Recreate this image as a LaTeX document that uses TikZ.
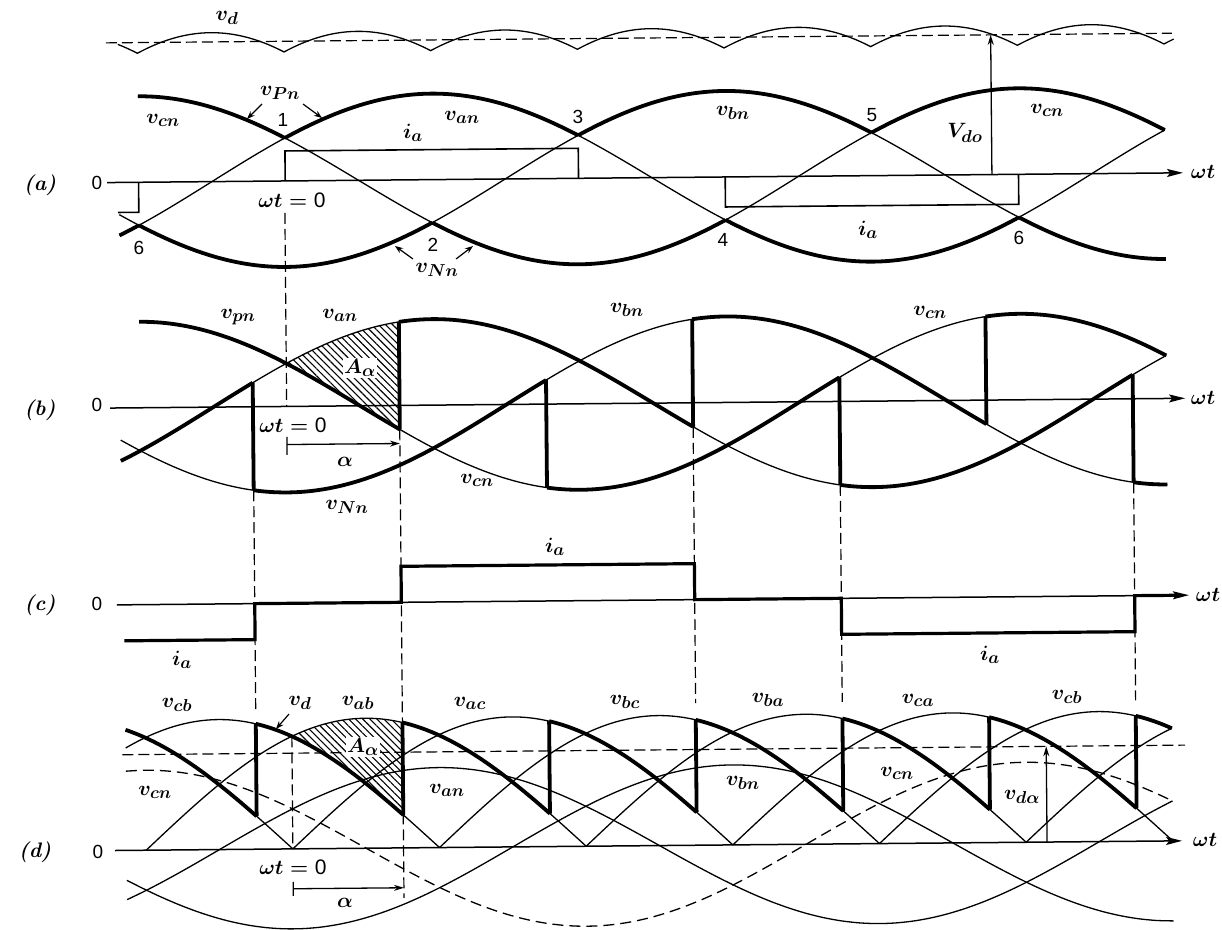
\documentclass[tikz,border=0pt]{standalone}
\usepackage{fontspec}
\newfontfamily\lsans{Liberation Sans}
\DeclareMathSizes{21}{21}{17}{14}
\usetikzlibrary{arrows.meta,patterns.meta}
\newcommand{\mywave}[5]{\draw[#1] plot[domain=#3:#4,samples=61,smooth,variable=\t] ({#2(\t)},{#5});}
\begin{document}
\begin{tikzpicture}[x=1pt,y=-1pt,
  declare function={xa(\t)=288.1+2.4445*\t; xb(\t)=287.5+2.4445*\t; xd(\t)=289.7+2.4445*\t;},
  thn/.style={line width=1.3pt},
  thk/.style={line width=3.8pt,line join=round},
  ial/.style={line width=1.6pt},
  iac/.style={line width=3.2pt,line join=miter},
  axl/.style={line width=1.5pt,-{Stealth[length=16pt,width=8pt,inset=3pt]}},
  dsh/.style={line width=1.2pt,dash pattern=on 11pt off 5pt},
  arr/.style={line width=1.3pt,-{Stealth[length=10pt,width=6pt]}},
  larr/.style={line width=1.2pt,-{Stealth[length=8pt,width=6pt]}},
  hatch/.style={pattern={Lines[angle=-45,distance=5pt,line width=1.1pt]}},
  lab/.style={font=\fontsize{21}{21}\selectfont\boldmath,inner sep=0pt},
  hlab/.style={lab,fill=white,inner sep=1.5pt},
  num/.style={font=\lsans\fontsize{19}{19}\selectfont,inner sep=0pt},
  pl/.style={font=\bfseries\itshape\fontsize{21}{21}\selectfont,inner sep=0pt}]
\useasboundingbox (0,0) rectangle (1222,929);
\begin{scope}[rotate around={0.52:(611,500)}]
% ================= (a)
\draw[axl] (110,178) -- (1186,178);
\draw[thn] plot[domain=-68:364,samples=217,variable=\t] ({xa(\t)},{178-148.96*max(abs(cos(\t-30)),abs(cos(\t-150)),abs(cos(\t+90)))});
\draw[dsh] (110,38.3) -- (1176,38.3);
\mywave{thn}{xa}{-68}{360}{178-86*cos(\t-60)}
\mywave{thn}{xa}{-68}{360}{178-86*cos(\t-180)}
\mywave{thn}{xa}{-60}{360}{178-86*cos(\t+60)}
\mywave{thk}{xa}{-68}{-60}{178-86*cos(\t-60)}
\mywave{thk}{xa}{0}{120}{178-86*cos(\t-60)}
\mywave{thk}{xa}{180}{300}{178-86*cos(\t-60)}
\mywave{thk}{xa}{-60}{60}{178-86*cos(\t-180)}
\mywave{thk}{xa}{120}{240}{178-86*cos(\t-180)}
\mywave{thk}{xa}{300}{360}{178-86*cos(\t-180)}
\mywave{thk}{xa}{-60}{0}{178-86*cos(\t+60)}
\mywave{thk}{xa}{60}{180}{178-86*cos(\t+60)}
\mywave{thk}{xa}{240}{360}{178-86*cos(\t+60)}
\draw[ial] (120.6,208) -- ({xa(-60)},208) -- ({xa(-60)},178);
\draw[ial] ({xa(0)},178) -- ({xa(0)},148) -- ({xa(120)},148) -- ({xa(120)},178);
\draw[ial] ({xa(180)},178) -- ({xa(180)},208) -- ({xa(300)},208) -- ({xa(300)},178);
\coordinate (VdoB) at (994.9,178);
\coordinate (VdoT) at (994.9,38.3);
\draw[arr] (VdoB) -- (VdoT);
\draw[dsh] (287.5,210) -- (287.5,403.5);
% ================= (b)
\fill[hatch] plot[domain=0:46.2,samples=30,variable=\t] ({xb(\t)},{403.5-86*cos(\t-60)})
  -- plot[domain=46.2:0,samples=30,variable=\t] ({xb(\t)},{403.5-86*cos(\t+60)}) -- cycle;
\draw[axl] (111,403.5) -- (1186,403.5);
\mywave{thn}{xb}{-68}{360}{403.5-86*cos(\t-60)}
\mywave{thn}{xb}{-68}{360}{403.5-86*cos(\t-180)}
\mywave{thn}{xb}{-60}{360}{403.5-86*cos(\t+60)}
\mywave{thk}{xb}{-68}{-13.8}{403.5-86*cos(\t-60)}
\mywave{thk}{xb}{46.2}{166.2}{403.5-86*cos(\t-60)}
\mywave{thk}{xb}{226.2}{346.2}{403.5-86*cos(\t-60)}
\mywave{thk}{xb}{-13.8}{106.2}{403.5-86*cos(\t-180)}
\mywave{thk}{xb}{166.2}{286.2}{403.5-86*cos(\t-180)}
\mywave{thk}{xb}{346.2}{360}{403.5-86*cos(\t-180)}
\mywave{thk}{xb}{-60}{46.2}{403.5-86*cos(\t+60)}
\mywave{thk}{xb}{106.2}{226.2}{403.5-86*cos(\t+60)}
\mywave{thk}{xb}{286.2}{360}{403.5-86*cos(\t+60)}
\foreach \f in {46.2,166.2,286.2} \draw[thk] ({xb(\f)},427.5) -- ({xb(\f)},320.0);
\foreach \f in {-13.8,106.2,226.2,346.2} \draw[thk] ({xb(\f)},379.5) -- ({xb(\f)},487.0);
\draw[thn] (287.5,434) -- (287.5,452);
\coordinate (aB1) at (287.5,441.6);
\coordinate (aB2) at (400.4,441.6);
\draw[arr] (aB1) -- (aB2);
% ================= (c)
\draw[axl] (116,600.4) -- (1188,600.4);
\draw[iac] (123,636.4) -- (253.8,636.4) -- (253.8,600.4) -- (400.4,600.4) -- (400.4,564.4)
  -- (693.8,564.4) -- (693.8,600.4) -- (840.4,600.4) -- (840.4,636.4) -- (1133.8,636.4)
  -- (1133.8,600.4) -- (1176,600.4);
\draw[dsh] (253.8,487) -- (253.8,706);
\draw[dsh] (400.4,427.5) -- (400.4,896);
\draw[dsh] (693.8,427.5) -- (693.8,704);
\draw[dsh] (840.4,487) -- (840.4,704);
\draw[dsh] (1133.8,487) -- (1133.8,705);
% ================= (d)
\fill[hatch] plot[domain=0:45.3,samples=30,variable=\t] ({xd(\t)},{846-130*sin(\t+60)})
  -- plot[domain=45.3:0,samples=30,variable=\t] ({xd(\t)},{846-130*sin(\t+120)}) -- cycle;
\draw[axl] (112,846) -- (1179,846);
\draw[dsh] (120,750.3) -- (1183,750.3);
\mywave{thn}{xd}{-68}{360}{846-80*cos(\t-60)}
\mywave{thn}{xd}{-68}{360}{846-80*cos(\t-180)}
\mywave{thn,dash pattern=on 11pt off 6pt}{xd}{-68}{360}{846-80*cos(\t+60)}
\mywave{thn}{xd}{-68}{0}{846-130*sin(\t+180)}
\mywave{thn}{xd}{-68}{60}{846-130*sin(\t+120)}
\mywave{thn}{xd}{-60}{120}{846-130*sin(\t+60)}
\mywave{thn}{xd}{0}{180}{846-130*sin(\t)}
\mywave{thn}{xd}{60}{240}{846-130*sin(\t-60)}
\mywave{thn}{xd}{120}{300}{846-130*sin(\t-120)}
\mywave{thn}{xd}{180}{360}{846-130*sin(\t-180)}
\mywave{thn}{xd}{240}{360}{846-130*sin(\t-240)}
\mywave{thn}{xd}{300}{360}{846-130*sin(\t-300)}
\mywave{thk}{xd}{-68}{-14.7}{846-130*sin(\t+180)}
\mywave{thk}{xd}{-14.7}{45.3}{846-130*sin(\t+120)}
\mywave{thk}{xd}{45.3}{105.3}{846-130*sin(\t+60)}
\mywave{thk}{xd}{105.3}{165.3}{846-130*sin(\t)}
\mywave{thk}{xd}{165.3}{225.3}{846-130*sin(\t-60)}
\mywave{thk}{xd}{225.3}{285.3}{846-130*sin(\t-120)}
\mywave{thk}{xd}{285.3}{345.3}{846-130*sin(\t-180)}
\mywave{thk}{xd}{345.3}{360}{846-130*sin(\t-240)}
\foreach \f in {-14.7,45.3,105.3,165.3,225.3,285.3,345.3} \draw[thk] ({xd(\f)},812.96) -- ({xd(\f)},720.6);
\draw[dsh] (289.7,733.4) -- (289.7,846);
\draw[thn] (289.7,879) -- (289.7,893);
\coordinate (aD1) at (289.7,885.9);
\coordinate (aD2) at (400.4,885.9);
\draw[arr] (aD1) -- (aD2);
\coordinate (vdaB) at (1044,846);
\coordinate (vdaT) at (1044,750.3);
\draw[arr] (vdaB) -- (vdaT);
\end{scope}
% ================= labels (a)
\node[pl] (pa) at (40,185) {(a)};
\node[num] (za) at (97,183) {0};
\node[lab] (la1) at (227,18) {$v_d$};
\node[lab] (la2) at (163,120) {$v_{cn}$};
\node[lab] (vPn) at (280,93) {$v_{Pn}$};
\node[num] (n1) at (283,120) {1};
\node[lab] (la3) at (413,133) {$i_a$};
\node[lab] (la4) at (462,117) {$v_{an}$};
\node[num] (n3) at (578,117) {3};
\node[lab] (la5) at (733,113) {$v_{bn}$};
\node[num] (n5) at (872,115) {5};
\node[lab] (la6) at (965,133) {$V_{do}$};
\node[lab] (la7) at (1047,110) {$v_{cn}$};
\node[lab] (wa) at (1203,172) {$\omega t$};
\node[lab] (wa0) at (292,200) {$\omega t=\mbox{\lsans 0}$};
\node[num] (n6a) at (139,248) {6};
\node[num] (n2) at (433,245) {2};
\node[num] (n4) at (723,240) {4};
\node[num] (n6b) at (1019,238) {6};
\node[lab] (vNn) at (437,270) {$v_{Nn}$};
\node[lab] (la8) at (868,230) {$i_a$};
\coordinate (pPnA) at (262,104); \coordinate (pPnB) at (247,119);
\coordinate (pPnC) at (303,104); \coordinate (pPnD) at (322,118);
\coordinate (pNnA) at (413,259); \coordinate (pNnB) at (395,246);
\coordinate (pNnC) at (456,259); \coordinate (pNnD) at (473,246);
\draw[larr] (pPnA) -- (pPnB);
\draw[larr] (pPnC) -- (pPnD);
\draw[larr] (pNnA) -- (pNnB);
\draw[larr] (pNnC) -- (pNnD);
% ================= labels (b)
\node[pl] (pb) at (40,410) {(b)};
\node[num] (zb) at (97,405) {0};
\node[lab] (lb1) at (238,317) {$v_{pn}$};
\node[lab] (lb2) at (340,315) {$v_{an}$};
\node[hlab] (lb3) at (360,368) {$A_\alpha$};
\node[lab] (lb4) at (293,425) {$\omega t=\mbox{\lsans 0}$};
\node[lab] (lb5) at (345,462) {$\alpha$};
\node[lab] (lb6) at (477,480) {$v_{cn}$};
\node[lab] (lb7) at (347,507) {$v_{Nn}$};
\node[lab] (lb8) at (627,310) {$v_{bn}$};
\node[lab] (lb9) at (930,312) {$v_{cn}$};
\node[lab] (wb) at (1203,398) {$\omega t$};
% ================= labels (c)
\node[pl] (pc) at (40,605) {(c)};
\node[num] (zc) at (97,604) {0};
\node[lab] (lc1) at (555,547) {$i_a$};
\node[lab] (lc2) at (182,660) {$i_a$};
\node[lab] (lc3) at (990,655) {$i_a$};
\node[lab] (wc) at (1208,595) {$\omega t$};
% ================= labels (d)
\node[pl] (pd) at (35,852) {(d)};
\node[num] (zd) at (98,852) {0};
\node[lab] (ld1) at (177,705) {$v_{cb}$};
\node[lab] (ld2) at (300,703) {$v_d$};
\node[lab] (ld3) at (358,703) {$v_{ab}$};
\node[lab] (ld4) at (470,703) {$v_{ac}$};
\node[lab] (ld5) at (625,702) {$v_{bc}$};
\node[lab] (ld6) at (768,700) {$v_{ba}$};
\node[lab] (ld7) at (918,700) {$v_{ca}$};
\node[lab] (ld8) at (1067,697) {$v_{cb}$};
\node[hlab] (ld9) at (363,747) {$A_\alpha$};
\node[lab] (ld10) at (155,792) {$v_{cn}$};
\node[lab] (ld11) at (447,790) {$v_{an}$};
\node[lab] (ld12) at (743,783) {$v_{bn}$};
\node[lab] (ld13) at (897,773) {$v_{cn}$};
\node[lab] (ld14) at (1022,797) {$v_{d\alpha}$};
\node[lab] (ld15) at (293,867) {$\omega t=\mbox{\lsans 0}$};
\node[lab] (ld16) at (345,903) {$\alpha$};
\node[lab] (wd) at (1205,840) {$\omega t$};
\coordinate (pvdA) at (289,714); \coordinate (pvdB) at (276,729);
\draw[larr] (pvdA) -- (pvdB);
\end{tikzpicture}
\end{document}
